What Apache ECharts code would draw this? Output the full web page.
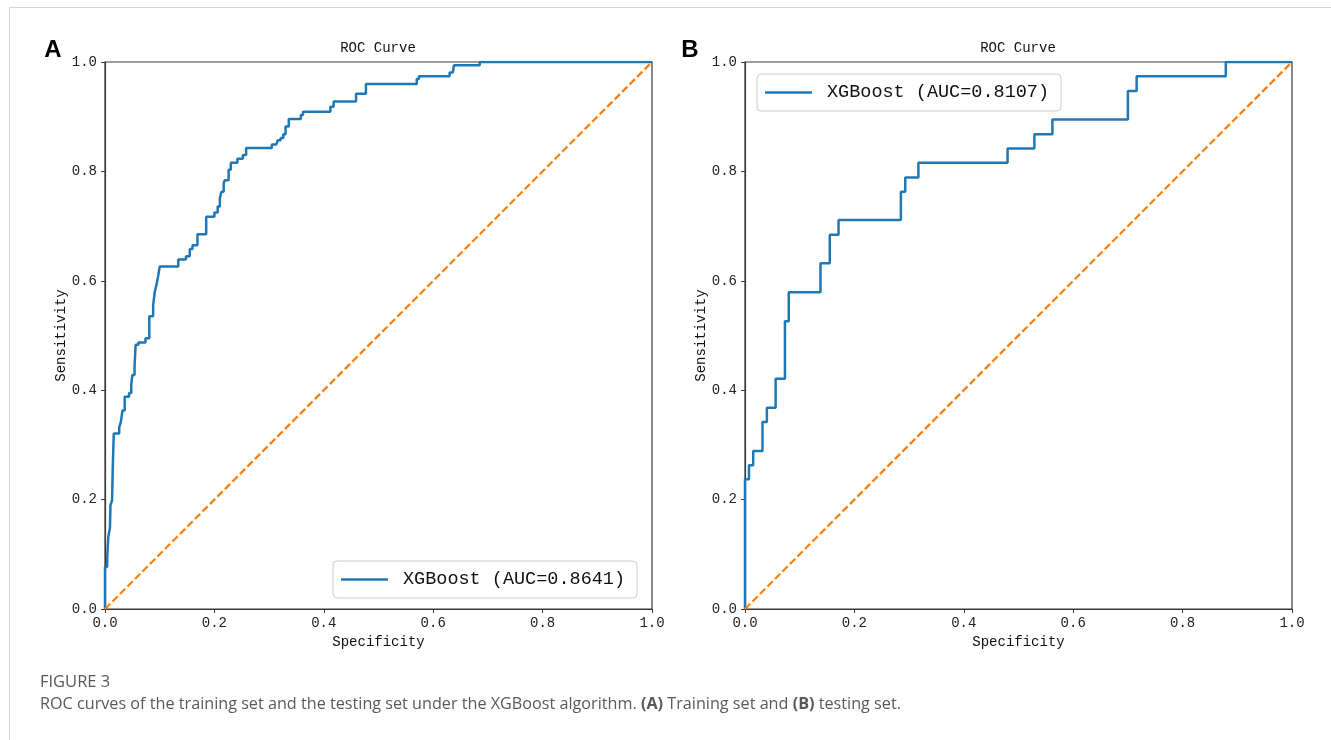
<!DOCTYPE html>
<html>
<head>
<meta charset="utf-8">
<script src="https://cdn.jsdelivr.net/npm/echarts@6/dist/echarts.min.js"></script>
<style>
  html, body { margin: 0; padding: 0; background: #fff; }
  #wrap { position: relative; width: 1331px; height: 740px; overflow: hidden; }
  #frame { position: absolute; left: 9px; top: 7px; width: 1400px; height: 800px; border-left: 1px solid #d6d6d6; border-top: 1px solid #d6d6d6; }
  #chart { position: absolute; left: 0; top: 0; width: 1331px; height: 740px; }
  .cap { position: absolute; left: 40px; font-family: "Open Sans", "Liberation Sans", sans-serif; color: #58595b; white-space: nowrap; }
  #capTitle { top: 669px; font-size: 16.5px; }
  #capText { top: 692px; font-size: 16.2px; }
</style>
</head>
<body>
<div id="wrap">
  <div id="frame"></div>
  <div id="chart"></div>
  <div class="cap" id="capTitle">FIGURE 3</div>
  <div class="cap" id="capText">ROC curves of the training set and the testing set under the XGBoost algorithm. <b>(A)</b> Training set and <b>(B)</b> testing set.</div>
</div>
<script>
// ---- Data ----
const tickValues = [0.0, 0.2, 0.4, 0.6, 0.8, 1.0];
const panelLetters = ['A', 'B'];
const chartTitle = 'ROC Curve';
const xName = 'Specificity';
const yName = 'Sensitivity';
const seriesNames = ['XGBoost (AUC=0.8641)', 'XGBoost (AUC=0.8107)'];

// Training set ROC (A): step points (x then y)
const fprA = [0, 0, 0.004, 0.006, 0.009, 0.010, 0.013, 0.014, 0.016, 0.026, 0.029, 0.032, 0.036, 0.044, 0.048, 0.050, 0.054, 0.056, 0.061, 0.074,
  0.081, 0.088, 0.091, 0.094, 0.097, 0.100, 0.134, 0.148, 0.155, 0.160, 0.169, 0.185, 0.200, 0.206, 0.210, 0.213, 0.217, 0.219, 0.226, 0.230,
  0.242, 0.252, 0.258, 0.305, 0.313, 0.316, 0.321, 0.326, 0.330, 0.336, 0.358, 0.362, 0.412, 0.418, 0.459, 0.477, 0.570, 0.574, 0.630, 0.636,
  0.638, 0.685, 1.0];
const tprA = [0, 0.077, 0.093, 0.132, 0.148, 0.190, 0.199, 0.251, 0.321, 0.332, 0.342, 0.363, 0.388, 0.395, 0.410, 0.428, 0.443, 0.483, 0.487, 0.495,
  0.535, 0.555, 0.580, 0.592, 0.608, 0.626, 0.639, 0.645, 0.658, 0.665, 0.685, 0.717, 0.725, 0.736, 0.751, 0.763, 0.778, 0.784, 0.803, 0.816,
  0.823, 0.830, 0.843, 0.849, 0.851, 0.857, 0.861, 0.868, 0.882, 0.896, 0.903, 0.909, 0.918, 0.928, 0.942, 0.960, 0.969, 0.974, 0.981, 0.983,
  0.994, 1.0, 1.0];

// Testing set ROC (B)
const fprB = [0, 0, 0.0073, 0.015, 0.032, 0.040, 0.056, 0.073, 0.080, 0.138, 0.155, 0.171, 0.285, 0.293, 0.317, 0.480, 0.529, 0.562, 0.700, 0.716, 0.879, 1.0];
const tprB = [0, 0.237, 0.263, 0.289, 0.342, 0.368, 0.421, 0.526, 0.579, 0.632, 0.684, 0.711, 0.763, 0.789, 0.816, 0.842, 0.868, 0.895, 0.947, 0.974, 1.0, 1.0];

// Chance line
const chanceX = [0, 1];
const chanceY = [0, 1];

// ---- Chart ----
const MONO = '"Liberation Mono", "DejaVu Sans Mono", monospace';
const zip = (a, b) => a.map((v, i) => [v, b[i]]);

const grids = [
  { left: 105, top: 62, width: 547, height: 547 },
  { left: 745, top: 62, width: 547, height: 547 }
];

function makeX(i) {
  return {
    gridIndex: i, type: 'value', min: 0, max: 1, interval: 0.2,
    name: xName, nameLocation: 'middle', nameGap: 24,
    nameTextStyle: { fontFamily: MONO, fontSize: 14, color: '#111' },
    axisLine: { show: true, onZero: false, lineStyle: { color: '#3a3a3a', width: 1.2 } },
    axisTick: { show: true, inside: false, length: 4, lineStyle: { color: '#3a3a3a', width: 1 } },
    axisLabel: { formatter: v => v.toFixed(1), fontFamily: MONO, fontSize: 14, color: '#222', margin: 7 },
    splitLine: { show: false }
  };
}
function makeY(i) {
  return {
    gridIndex: i, type: 'value', min: 0, max: 1, interval: 0.2,
    name: yName, nameLocation: 'middle', nameGap: 36,
    nameTextStyle: { fontFamily: MONO, fontSize: 14, color: '#111' },
    axisLine: { show: true, onZero: false, lineStyle: { color: '#3a3a3a', width: 1.2 } },
    axisTick: { show: true, inside: false, length: 4, lineStyle: { color: '#3a3a3a', width: 1 } },
    axisLabel: { formatter: v => v.toFixed(1), fontFamily: MONO, fontSize: 14, color: '#222', margin: 8 },
    splitLine: { show: false }
  };
}

function legendFor(name, left, top) {
  return {
    data: [{ name: name, icon: 'rect' }], left: left, top: top, orient: 'horizontal',
    itemWidth: 47, itemHeight: 2.4,
    padding: [9, 12, 9, 8],
    borderColor: '#cccccc', borderWidth: 1, borderRadius: 4,
    backgroundColor: 'rgba(255,255,255,0.85)',
    selectedMode: false,
    textStyle: { fontFamily: MONO, fontSize: 18.5, color: '#111', padding: [0, 0, 0, 10] }
  };
}

const graphics = [];
[378, 1018].forEach((cx, i) => {
  graphics.push({ type: 'text', x: cx, y: 48, style: { text: chartTitle, font: '14px ' + MONO, fill: '#111', align: 'center', verticalAlign: 'middle' } });
});
[[53, 50], [690, 50]].forEach((p, i) => {
  graphics.push({ type: 'text', x: p[0], y: p[1], style: { text: panelLetters[i], font: 'bold 24px "Liberation Sans", Arial, sans-serif', fill: '#000', align: 'center', verticalAlign: 'middle' } });
});

const option = {
  animation: false,
  backgroundColor: 'transparent',
  grid: grids.map(g => Object.assign({ show: true, borderColor: '#3a3a3a', borderWidth: 1.2, backgroundColor: 'transparent' }, g)),
  xAxis: [makeX(0), makeX(1)],
  yAxis: [makeY(0), makeY(1)],
  legend: [legendFor(seriesNames[0], 333, 561), legendFor(seriesNames[1], 757, 74)],
  graphic: graphics,
  series: [
    { name: seriesNames[0], type: 'line', xAxisIndex: 0, yAxisIndex: 0, step: 'end', symbol: 'none',
      data: zip(fprA, tprA), lineStyle: { color: '#1f77b4', width: 2.5 }, itemStyle: { color: '#1f77b4' } },
    { name: 'chanceA', type: 'line', xAxisIndex: 0, yAxisIndex: 0, symbol: 'none',
      data: zip(chanceX, chanceY), lineStyle: { color: '#ff7f0e', width: 2.3, type: [7.4, 3.2] } },
    { name: seriesNames[1], type: 'line', xAxisIndex: 1, yAxisIndex: 1, step: 'end', symbol: 'none',
      data: zip(fprB, tprB), lineStyle: { color: '#1f77b4', width: 2.5 }, itemStyle: { color: '#1f77b4' } },
    { name: 'chanceB', type: 'line', xAxisIndex: 1, yAxisIndex: 1, symbol: 'none',
      data: zip(chanceX, chanceY), lineStyle: { color: '#ff7f0e', width: 2.3, type: [7.4, 3.2] } }
  ]
};

const chart = echarts.init(document.getElementById('chart'), null, { renderer: 'canvas' });
chart.setOption(option);
</script>
</body>
</html>
